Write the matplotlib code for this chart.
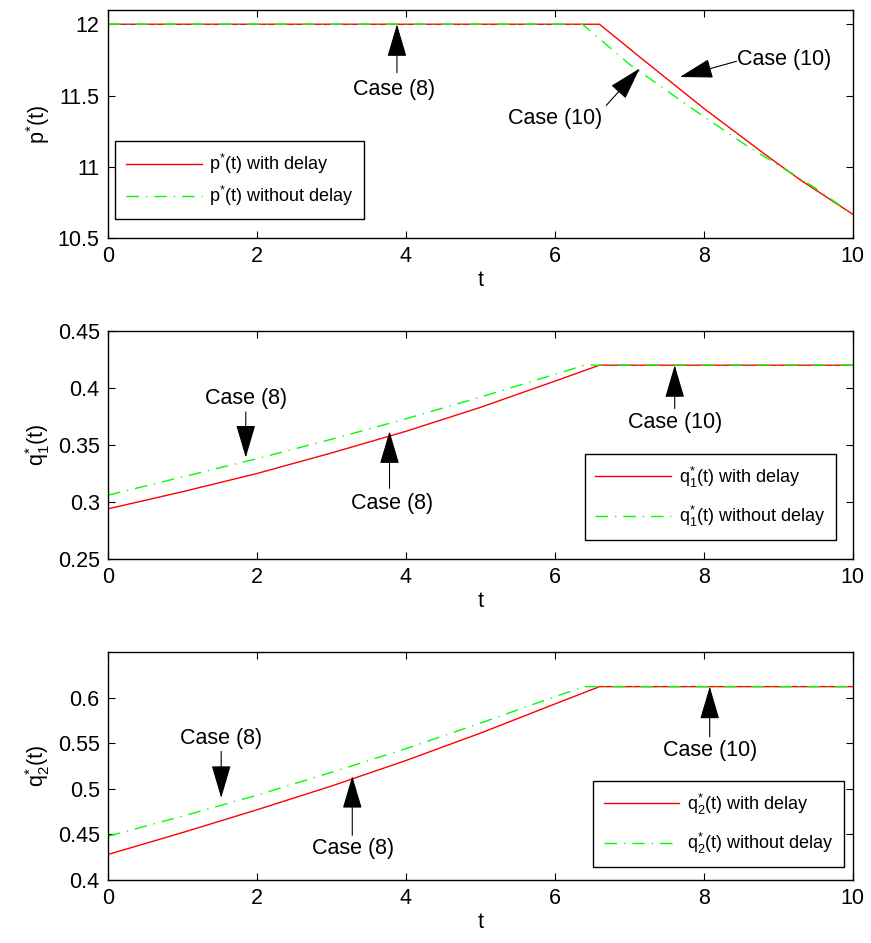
import matplotlib
matplotlib.use('Agg')
import matplotlib.pyplot as plt

plt.rcParams['font.family'] = ['Liberation Sans', 'DejaVu Sans']
plt.rcParams['mathtext.fontset'] = 'custom'
plt.rcParams['mathtext.rm'] = 'Liberation Sans'
plt.rcParams['mathtext.it'] = 'Liberation Sans'

# p*(t)
p_delay_t = [0, 6.6, 7.2, 8.0, 8.84, 9.29, 10]
p_delay = [12, 12, 11.745, 11.41, 11.08, 10.91, 10.667]
p_free_t = [0, 6.37, 7.0, 7.95, 8.57, 9.47, 10]
p_free = [12, 12, 11.72, 11.37, 11.15, 10.86, 10.667]

# q1*(t)
q1_delay_t = [0, 1, 2, 3, 4, 5, 6, 6.6, 10]
q1_delay = [0.294, 0.309, 0.325, 0.343, 0.362, 0.383, 0.406, 0.42, 0.42]
q1_free_t = [0, 1, 2, 3, 4, 5, 6, 6.4, 10]
q1_free = [0.306, 0.322, 0.338, 0.355, 0.373, 0.392, 0.412, 0.42, 0.42]

# q2*(t)
q2_delay_t = [0, 1, 2, 3, 4, 5, 6, 6.6, 10]
q2_delay = [0.428, 0.452, 0.477, 0.503, 0.531, 0.561, 0.593, 0.612, 0.612]
q2_free_t = [0, 1, 2, 3, 4, 5, 6, 6.4, 10]
q2_free = [0.448, 0.470, 0.493, 0.518, 0.544, 0.572, 0.601, 0.612, 0.612]

xticks = [0, 2, 4, 6, 8, 10]
p_ticks = [10.5, 11, 11.5, 12]
p_labels = ['10.5', '11', '11.5', '12']
q1_ticks = [0.25, 0.3, 0.35, 0.4, 0.45]
q1_labels = ['0.25', '0.3', '0.35', '0.4', '0.45']
q2_ticks = [0.4, 0.45, 0.5, 0.55, 0.6]
q2_labels = ['0.4', '0.45', '0.5', '0.55', '0.6']

FS = 15.5

fig = plt.figure(figsize=(8.71, 9.43), dpi=100)
left, width, height = 0.124, 0.855, 0.2418
bottoms = [0.7476, 0.4072, 0.0668]
axes = [fig.add_axes([left, b, width, height]) for b in bottoms]

green = (0, 1, 0)
dashdot = (0, (9, 5, 1, 5))
arrow = dict(arrowstyle='-|>,head_length=0.95,head_width=0.28', color='k', lw=0.8,
             mutation_scale=22, shrinkA=0, shrinkB=0)


def case(ax, txt, tx, ty, tail, tip, ha='center'):
    ax.annotate('', xy=tip, xytext=tail, arrowprops=arrow)
    ax.text(tx, ty, txt, ha=ha, va='center', fontsize=FS)


def legend(ax, anchor, spacing=0.8):
    ax.legend(loc='lower left', bbox_to_anchor=anchor, fontsize=13,
              handlelength=4.2, labelspacing=spacing, borderpad=0.6,
              borderaxespad=0, handletextpad=0.4, fancybox=False,
              edgecolor='k', framealpha=1)
    ax.get_legend().get_frame().set_linewidth(1)


# panel 1
ax = axes[0]
ax.plot(p_delay_t, p_delay, color='r', lw=1, label=r'$\mathrm{p}^{*}\mathrm{(t)}$ with delay')
ax.plot(p_free_t, p_free, color=green, lw=1, ls=dashdot,
        label=r'$\mathrm{p}^{*}\mathrm{(t)}$ without delay')
ax.set_ylim(10.5, 12.1)
ax.set_yticks(p_ticks)
ax.set_yticklabels(p_labels)
ax.set_ylabel(r'$\mathrm{p}^{*}\mathrm{(t)}$', fontsize=FS)
legend(ax, (0.0094, 0.083), spacing=0.45)
case(ax, 'Case (8)', 3.84, 11.54, (3.88, 11.66), (3.88, 12.0))
case(ax, 'Case (10)', 8.44, 11.75, (8.44, 11.74), (7.68, 11.63), ha='left')
case(ax, 'Case (10)', 6.01, 11.34, (6.69, 11.43), (7.14, 11.69))

# panel 2
ax = axes[1]
ax.plot(q1_delay_t, q1_delay, color='r', lw=1,
        label=r'$\mathrm{q}_{1}^{*}\mathrm{(t)}$ with delay')
ax.plot(q1_free_t, q1_free, color=green, lw=1, ls=dashdot,
        label=r'$\mathrm{q}_{1}^{*}\mathrm{(t)}$ without delay')
ax.set_ylim(0.25, 0.45)
ax.set_yticks(q1_ticks)
ax.set_yticklabels(q1_labels)
ax.set_ylabel(r'$\mathrm{q}_{1}^{*}\mathrm{(t)}$', fontsize=FS)
legend(ax, (0.640, 0.083))
case(ax, 'Case (8)', 1.85, 0.391, (1.85, 0.379), (1.85, 0.339))
case(ax, 'Case (8)', 3.81, 0.299, (3.78, 0.312), (3.78, 0.362))
case(ax, 'Case (10)', 7.61, 0.370, (7.61, 0.382), (7.61, 0.42))

# panel 3
ax = axes[2]
ax.plot(q2_delay_t, q2_delay, color='r', lw=1,
        label=r'$\mathrm{q}_{2}^{*}\mathrm{(t)}$ with delay')
ax.plot(q2_free_t, q2_free, color=green, lw=1, ls=dashdot,
        label=r'$\mathrm{q}_{2}^{*}\mathrm{(t)}$ without delay')
ax.set_ylim(0.4, 0.65)
ax.set_yticks(q2_ticks)
ax.set_yticklabels(q2_labels)
ax.set_ylabel(r'$\mathrm{q}_{2}^{*}\mathrm{(t)}$', fontsize=FS)
legend(ax, (0.651, 0.057))
case(ax, 'Case (8)', 1.52, 0.555, (1.52, 0.541), (1.52, 0.490))
case(ax, 'Case (8)', 3.29, 0.434, (3.28, 0.449), (3.28, 0.514))
case(ax, 'Case (10)', 8.08, 0.5425, (8.08, 0.557), (8.08, 0.612))

for ax in axes:
    ax.set_xlim(0, 10)
    ax.set_xticks(xticks)
    ax.set_xlabel('t', fontsize=FS, labelpad=2)
    ax.tick_params(direction='in', top=True, right=True, labelsize=FS, length=5, pad=6)
    for s in ax.spines.values():
        s.set_linewidth(1)

fig.savefig('out.png', dpi=100)
